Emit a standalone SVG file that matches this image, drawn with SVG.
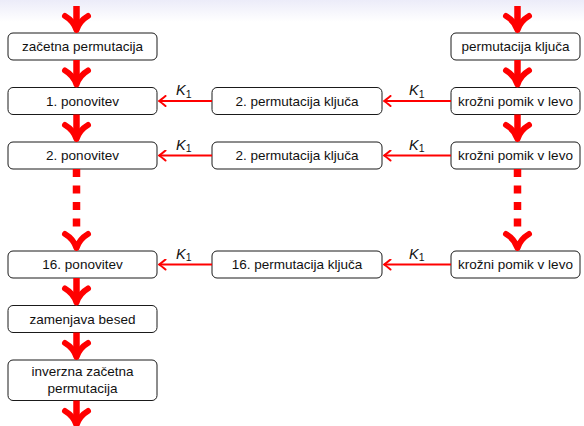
<svg xmlns="http://www.w3.org/2000/svg" width="584" height="426" viewBox="0 0 584 426">
  <defs>
    <linearGradient id="topShade" x1="0" y1="0" x2="0" y2="1">
      <stop offset="0" stop-color="#ececf9"/>
      <stop offset="1" stop-color="#ffffff"/>
    </linearGradient>
    <!-- thin key arrow head -->
    <marker id="keyHead" viewBox="-8 -6 10 12" refX="0" refY="0" markerWidth="10" markerHeight="12" markerUnits="userSpaceOnUse" orient="auto">
      <path d="M-6.5,-5 Q-2,-1.2 0,0 Q-2,1.2 -6.5,5" fill="none" stroke="#ff0000" stroke-width="2" stroke-linecap="round" stroke-linejoin="round"/>
    </marker>
  </defs>
  <style>
    .box { fill: #ffffff; stroke: #1a1a1a; stroke-width: 1; }
    .lbl { font-family: "Liberation Sans", Arial, sans-serif; font-size: 13.5px; fill: #111111; text-anchor: middle; }
    .k { font-family: "Liberation Sans", Arial, sans-serif; font-size: 14.5px; fill: #111111; font-style: italic; }
    .ksub { font-family: "Liberation Sans", Arial, sans-serif; font-size: 10.5px; fill: #111111; font-style: normal; }
    .shaft { stroke: #ff0000; stroke-width: 6.5; fill: none; }
    .dots { stroke: #ff0000; stroke-width: 7.5; fill: none; stroke-dasharray: 8 8.5; }
    .head { stroke: #ff0000; stroke-width: 6; fill: none; stroke-linecap: round; stroke-linejoin: round; }
    .key { stroke: #ff0000; stroke-width: 2.2; fill: none; marker-end: url(#keyHead); }
  </style>

  <rect x="0" y="0" width="584" height="426" fill="#ffffff"/>
  <rect x="0" y="0" width="584" height="22" fill="url(#topShade)"/>

  <!-- left column -->
  <g id="zacetna">
    <rect class="box" x="8" y="33" width="149" height="27" rx="5"/>
    <text class="lbl" x="82.5" y="51.3">začetna permutacija</text>
  </g>
  <g id="ponovitev1">
    <rect class="box" x="8" y="87.5" width="149" height="27" rx="5"/>
    <text class="lbl" x="82.5" y="105.8">1. ponovitev</text>
  </g>
  <g id="ponovitev2">
    <rect class="box" x="8" y="142" width="149" height="27" rx="5"/>
    <text class="lbl" x="82.5" y="160.3">2. ponovitev</text>
  </g>
  <g id="ponovitev16">
    <rect class="box" x="8" y="251" width="149" height="27" rx="5"/>
    <text class="lbl" x="82.5" y="269.3">16. ponovitev</text>
  </g>
  <g id="zamenjava">
    <rect class="box" x="8" y="305.5" width="149" height="27" rx="5"/>
    <text class="lbl" x="82.5" y="323.8">zamenjava besed</text>
  </g>
  <g id="inverzna">
    <rect class="box" x="8" y="360" width="149" height="40.5" rx="5"/>
    <text class="lbl" x="82.5" y="375.5">inverzna začetna</text>
    <text class="lbl" x="82.5" y="392.5">permutacija</text>
  </g>

  <!-- middle column -->
  <g id="kljuc1">
    <rect class="box" x="212" y="87.5" width="170" height="27" rx="5"/>
    <text class="lbl" x="297" y="105.8">2. permutacija ključa</text>
  </g>
  <g id="kljuc2">
    <rect class="box" x="212" y="142" width="170" height="27" rx="5"/>
    <text class="lbl" x="297" y="160.3">2. permutacija ključa</text>
  </g>
  <g id="kljuc16">
    <rect class="box" x="212" y="251" width="170" height="27" rx="5"/>
    <text class="lbl" x="297" y="269.3">16. permutacija ključa</text>
  </g>

  <!-- right column -->
  <g id="permKljuca">
    <rect class="box" x="451" y="33" width="129" height="27" rx="5"/>
    <text class="lbl" x="515.5" y="51.3">permutacija ključa</text>
  </g>
  <g id="pomik1">
    <rect class="box" x="451" y="87.5" width="129" height="27" rx="5"/>
    <text class="lbl" x="515.5" y="105.8">krožni pomik v levo</text>
  </g>
  <g id="pomik2">
    <rect class="box" x="451" y="142" width="129" height="27" rx="5"/>
    <text class="lbl" x="515.5" y="160.3">krožni pomik v levo</text>
  </g>
  <g id="pomik16">
    <rect class="box" x="451" y="251" width="129" height="27" rx="5"/>
    <text class="lbl" x="515.5" y="269.3">krožni pomik v levo</text>
  </g>

  <g id="connectors">
    <!-- left main flow -->
    <line class="shaft" x1="76.5" y1="6" x2="76.5" y2="29"/>
    <path class="head" d="M65,16 Q73.5,21 76.5,30 Q79.5,21 88,16"/>
    <line class="shaft" x1="76.5" y1="60" x2="76.5" y2="83.5"/>
    <path class="head" d="M65,70.5 Q73.5,75.5 76.5,84.5 Q79.5,75.5 88,70.5"/>
    <line class="shaft" x1="76.5" y1="114.5" x2="76.5" y2="138"/>
    <path class="head" d="M65,125 Q73.5,130 76.5,139 Q79.5,130 88,125"/>
    <line class="dots" x1="76.5" y1="169" x2="76.5" y2="228"/>
    <path class="head" d="M65,234 Q73.5,239 76.5,248 Q79.5,239 88,234"/>
    <line class="shaft" x1="76.5" y1="278" x2="76.5" y2="301.5"/>
    <path class="head" d="M65,288.5 Q73.5,293.5 76.5,302.5 Q79.5,293.5 88,288.5"/>
    <line class="shaft" x1="76.5" y1="332.5" x2="76.5" y2="356"/>
    <path class="head" d="M65,343 Q73.5,348 76.5,357 Q79.5,348 88,343"/>
    <line class="shaft" x1="76.5" y1="400.5" x2="76.5" y2="424"/>
    <path class="head" d="M65,411 Q73.5,416 76.5,425 Q79.5,416 88,411"/>

    <!-- key schedule flow -->
    <line class="shaft" x1="517.5" y1="6" x2="517.5" y2="29"/>
    <path class="head" d="M506,16 Q514.5,21 517.5,30 Q520.5,21 529,16"/>
    <line class="shaft" x1="517.5" y1="60" x2="517.5" y2="83.5"/>
    <path class="head" d="M506,70.5 Q514.5,75.5 517.5,84.5 Q520.5,75.5 529,70.5"/>
    <line class="shaft" x1="517.5" y1="114.5" x2="517.5" y2="138"/>
    <path class="head" d="M506,125 Q514.5,130 517.5,139 Q520.5,130 529,125"/>
    <line class="dots" x1="517.5" y1="169" x2="517.5" y2="228"/>
    <path class="head" d="M506,234 Q514.5,239 517.5,248 Q520.5,239 529,234"/>

    <!-- round keys -->
    <line class="key" x1="451" y1="101" x2="384" y2="101"/>
    <line class="key" x1="212" y1="101" x2="159" y2="101"/>
    <line class="key" x1="451" y1="155.5" x2="384" y2="155.5"/>
    <line class="key" x1="212" y1="155.5" x2="159" y2="155.5"/>
    <line class="key" x1="451" y1="264.5" x2="384" y2="264.5"/>
    <line class="key" x1="212" y1="264.5" x2="159" y2="264.5"/>

    <g id="keyLabels">
      <text class="k" x="409" y="95">K<tspan class="ksub" dy="2.5">1</tspan></text>
      <text class="k" x="176" y="95">K<tspan class="ksub" dy="2.5">1</tspan></text>
      <text class="k" x="409" y="149.5">K<tspan class="ksub" dy="2.5">1</tspan></text>
      <text class="k" x="176" y="149.5">K<tspan class="ksub" dy="2.5">1</tspan></text>
      <text class="k" x="409" y="258.5">K<tspan class="ksub" dy="2.5">1</tspan></text>
      <text class="k" x="176" y="258.5">K<tspan class="ksub" dy="2.5">1</tspan></text>
    </g>
  </g>
</svg>
